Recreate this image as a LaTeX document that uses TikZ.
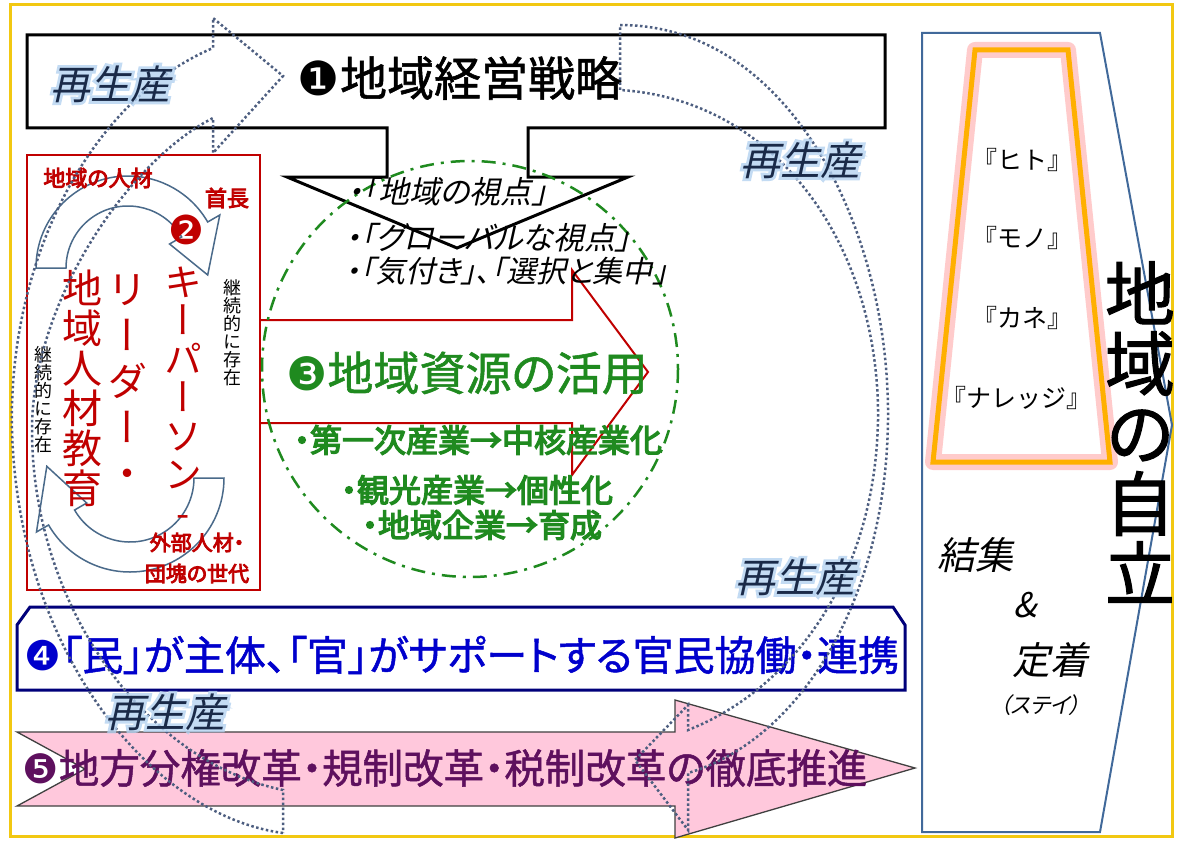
\documentclass[tikz,border=0pt]{standalone}
\usepackage{fontspec}
\usepackage{graphicx}
\usetikzlibrary{calc}
\setmainfont[RawFeature=+palt]{Noto Sans CJK JP}
\newfontfamily\jpfull{Noto Sans CJK JP}
\newfontfamily\jpmed[RawFeature=+palt,FakeBold=1.2]{Noto Sans CJK JP}
\newfontfamily\jpbold[RawFeature=+palt,FakeBold=4]{Noto Sans CJK JP}
\newfontfamily\jpital[RawFeature=+palt,FakeSlant=0.22]{Noto Sans CJK JP}
\newfontfamily\jpglow[RawFeature=+palt,FakeSlant=0.22,FakeBold=14]{Noto Sans CJK JP}
\newfontfamily\jpvert[RawFeature=+vert]{Noto Sans CJK JP}
\newfontfamily\jpvertmed[RawFeature=+vert,FakeBold=1.5]{Noto Sans CJK JP}
\newfontfamily\circnum{DejaVu Sans}
\newcommand{\jfs}[1]{\fontsize{#1}{#1}\selectfont}

\definecolor{frameyellow}{HTML}{F2C811}
\definecolor{keyred}{HTML}{C00000}
\definecolor{resgreen}{HTML}{1F8A1F}
\definecolor{loopblue}{HTML}{4D5E80}
\definecolor{arcblue}{HTML}{4A6A8A}
\definecolor{kyoblue}{HTML}{0000CC}
\definecolor{kyonavy}{HTML}{00007A}
\definecolor{reformpink}{HTML}{FFC8DC}
\definecolor{reformpurple}{HTML}{5E105E}
\definecolor{panelblue}{HTML}{41699A}
\definecolor{trapgold}{HTML}{FFB000}
\definecolor{glowpink}{HTML}{FF8C8C}
\definecolor{saiseinavy}{HTML}{1A2A48}
\definecolor{saiseiglow}{HTML}{B4D2F0}

\tikzstyle{txt}=[inner sep=0pt,outer sep=0pt]
\tikzstyle{vcol}=[txt,align=center]
\tikzstyle{frame}=[draw=frameyellow,line width=3pt]
\tikzstyle{mainbox}=[draw=black,fill=white,line width=3pt,line join=miter]
\tikzstyle{keybox}=[draw=keyred,fill=white,line width=2pt]
\tikzstyle{arcarrow}=[draw=arcblue,fill=white,line width=1.5pt]
\tikzstyle{keyarrow}=[draw=keyred,line width=2pt,line join=miter]
\tikzstyle{resring}=[draw=resgreen,line width=2.5pt,dash pattern=on 14pt off 7pt on 3pt off 7pt]
\tikzstyle{kyobox}=[draw=kyonavy,fill=white,line width=3pt]
\tikzstyle{reformarrow}=[draw=black!75,fill=reformpink,line width=1.3pt]
\tikzstyle{panel}=[draw=panelblue,line width=2pt]
\tikzstyle{trapglow}=[draw=glowpink,line width=16pt,opacity=0.45,line join=round]
\tikzstyle{trapline}=[draw=trapgold,line width=5pt,line join=miter]
\tikzstyle{loopband}=[draw=loopblue,line width=2.5pt,dash pattern=on 2.5pt off 2.5pt]
\tikzstyle{saisei}=[txt,text=saiseinavy,font=\jpital\jfs{40}]
\tikzstyle{saiseihalo}=[txt,text=saiseiglow,font=\jpglow\jfs{40}]

\begin{document}
\begin{tikzpicture}[x=1pt,y=-1pt]
\useasboundingbox (0,0) rectangle (1177,840);
\fill[white] (0,0) rectangle (1177,840);
\draw[frame] (10,5) rectangle (1172,836);

\draw[mainbox] (27,35) -- (885,35) -- (885,128) -- (528,128) -- (528,177) -- (628,177) -- (457,248) -- (287,177) -- (387,177) -- (387,128) -- (27,128) -- cycle;
\node[txt,font=\jpmed\jfs{47}] at (460,78) (senryaku) {{\circnum ❶}地域経営戦略};

\draw[keybox] (27,155) rectangle (260,590);
\coordinate (arctop) at (128,268);
\coordinate (arcbot) at (130,478);
\draw[arcarrow] ($(arctop)+(180:92)$) arc[start angle=180,end angle=330,radius=92] -- ($(arctop)+(330:106)$) -- ($(arctop)+(5:80)$) -- ($(arctop)+(330:48)$) -- ($(arctop)+(330:62)$) arc[start angle=330,end angle=180,radius=62] -- cycle;
\draw[arcarrow] ($(arcbot)+(0:94)$) arc[start angle=0,end angle=150,radius=94] -- ($(arcbot)+(150:108)$) -- ($(arcbot)+(188:84)$) -- ($(arcbot)+(150:50)$) -- ($(arcbot)+(150:64)$) arc[start angle=150,end angle=0,radius=64] -- cycle;
\node[txt,text=keyred,font=\jpbold\jfs{22}] at (98,178) (jinzai) {地域の人材};
\node[txt,text=keyred,font=\jpbold\jfs{22}] at (227,198) (shucho) {首長};
\node[txt,text=keyred,font=\circnum\jfs{40}] at (186,230) (num2) {❷};
\node[vcol,text=keyred,font=\jpvert\jfs{40}] at (82,388) (kyoiku) {地\\域\\人\\材\\教\\育};
\node[vcol,text=keyred,font=\jpvert\fontsize{40}{46}\selectfont] at (127,382) (leader) {リ\\ー\\ダ\\ー\\・};
\node[vcol,text=keyred,font=\jpvert\fontsize{38}{38.5}\selectfont] at (183,397) (keyperson) {キ\\ー\\パ\\ー\\ソ\\ン\\-};
\node[vcol,font=\jpvert\jfs{18}] at (232,333) (keizokuR) {継\\続\\的\\に\\存\\在};
\node[vcol,font=\jpvert\jfs{18}] at (43,400) (keizokuL) {継\\続\\的\\に\\存\\在};
\node[txt,align=center,text=keyred,font=\jpbold\fontsize{21}{31}\selectfont] at (197,558) (gaibu) {外部人材・\\団塊の世代};

\draw[keyarrow] (260,320) -- (572,320) -- (572,270) -- (648,372) -- (572,475) -- (572,423) -- (260,423);
\draw[resring] (470,369) circle[radius=208];

\node[txt,anchor=west,font=\jpital\jfs{31}] at (347,192) (shiten) {・「地域の視点」};
\node[txt,anchor=west,font=\jpital\jfs{31}] at (345,238) (global) {・「グローバルな視点」};
\node[txt,anchor=west,font=\jpital\jfs{30}] at (345,271) (kizuki) {・「気付き」、「選択と集中」};

\node[txt,text=resgreen,font=\jpmed\jfs{46}] at (467,373) (katsuyo) {{\circnum ❸}地域資源の活用};
\node[txt,text=resgreen,font=\jpbold\jfs{32}] at (478,440) (sangyoA) {・第一次産業→中核産業化};
\node[txt,text=resgreen,font=\jpbold\jfs{32}] at (477,490) (sangyoB) {・観光産業→個性化};
\node[txt,text=resgreen,font=\jpbold\jfs{32}] at (482,525) (sangyoC) {・地域企業→育成};

\draw[kyobox] (17,690) -- (17,625) -- (30,607) -- (893,607) -- (905,625) -- (905,690) -- cycle;
\node[txt,text=kyoblue,font=\jpmed\jfs{41}] at (462,655) (kyodo) {{\circnum ❹}「民」が主体、「官」がサポートする官民協働・連携};

\draw[reformarrow] (17,732) -- (675,732) -- (675,700) -- (915,768) -- (675,838) -- (675,806) -- (17,806) -- (85,769) -- cycle;
\node[txt,text=reformpurple,font=\jpmed\jfs{40.5}] at (445,768) (kaikaku) {{\circnum ❺}地方分権改革・規制改革・税制改革の徹底推進};

\draw[panel] (922,33) -- (1100,33) -- (1172,425) -- (1100,832) -- (922,832) -- cycle;
\draw[trapglow] (975,50) -- (1068,50) -- (1110,462) -- (933,462) -- cycle;
\draw[trapline] (975,50) -- (1068,50) -- (1110,462) -- (933,462) -- cycle;
\node[txt,font=\jpfull\jfs{25}] at (1022,160) (hito) {『ヒト』};
\node[txt,font=\jpfull\jfs{25}] at (1022,238) (mono) {『モノ』};
\node[txt,font=\jpfull\jfs{25}] at (1022,318) (kane) {『カネ』};
\node[txt,font=\jpfull\jfs{25}] at (1016,398) (knowledge) {『ナレッジ』};
\node[vcol,font=\jpvertmed\jfs{70}] at (1140,432) (jiritsu) {地\\域\\の\\自\\立};
\node[txt,font=\jpital\jfs{38}] at (975,555) (kesshu) {結集};
\node[txt,font=\jpital\jfs{34}] at (1025,605) (amp) {\&};
\node[txt,font=\jpital\jfs{38}] at (1050,660) (teichaku) {定着};
\node[txt,font=\jpital\jfs{22}] at (1040,705) (stay) {（ステイ）};

\draw[loopband] (283,833) .. controls (150,815) and (18,650) .. (12,430) .. controls (8,260) and (90,100) .. (213,48) -- (213,18) -- (283,76) -- (213,153) -- (213,118) .. controls (130,160) and (32,300) .. (32,430) .. controls (32,600) and (140,760) .. (283,790) -- cycle;
\draw[loopband] (620,25) .. controls (790,25) and (890,230) .. (888,420) .. controls (886,600) and (800,740) .. (688,773) -- (688,830) -- (635,760) -- (688,705) -- (688,730) .. controls (790,690) and (875,580) .. (878,420) .. controls (880,250) and (780,100) .. (620,90) -- cycle;

\node[saiseihalo,opacity=0.8] at (110,84) (saiseiAh) {再生産};
\node[saisei] at (110,84) (saiseiA) {再生産};
\node[saiseihalo,opacity=0.8] at (800,160) (saiseiBh) {再生産};
\node[saisei] at (800,160) (saiseiB) {再生産};
\node[saiseihalo,opacity=0.8] at (795,577) (saiseiCh) {再生産};
\node[saisei] at (795,577) (saiseiC) {再生産};
\node[saiseihalo,opacity=0.8] at (165,712) (saiseiDh) {再生産};
\node[saisei] at (165,712) (saiseiD) {再生産};
\end{tikzpicture}
\end{document}
